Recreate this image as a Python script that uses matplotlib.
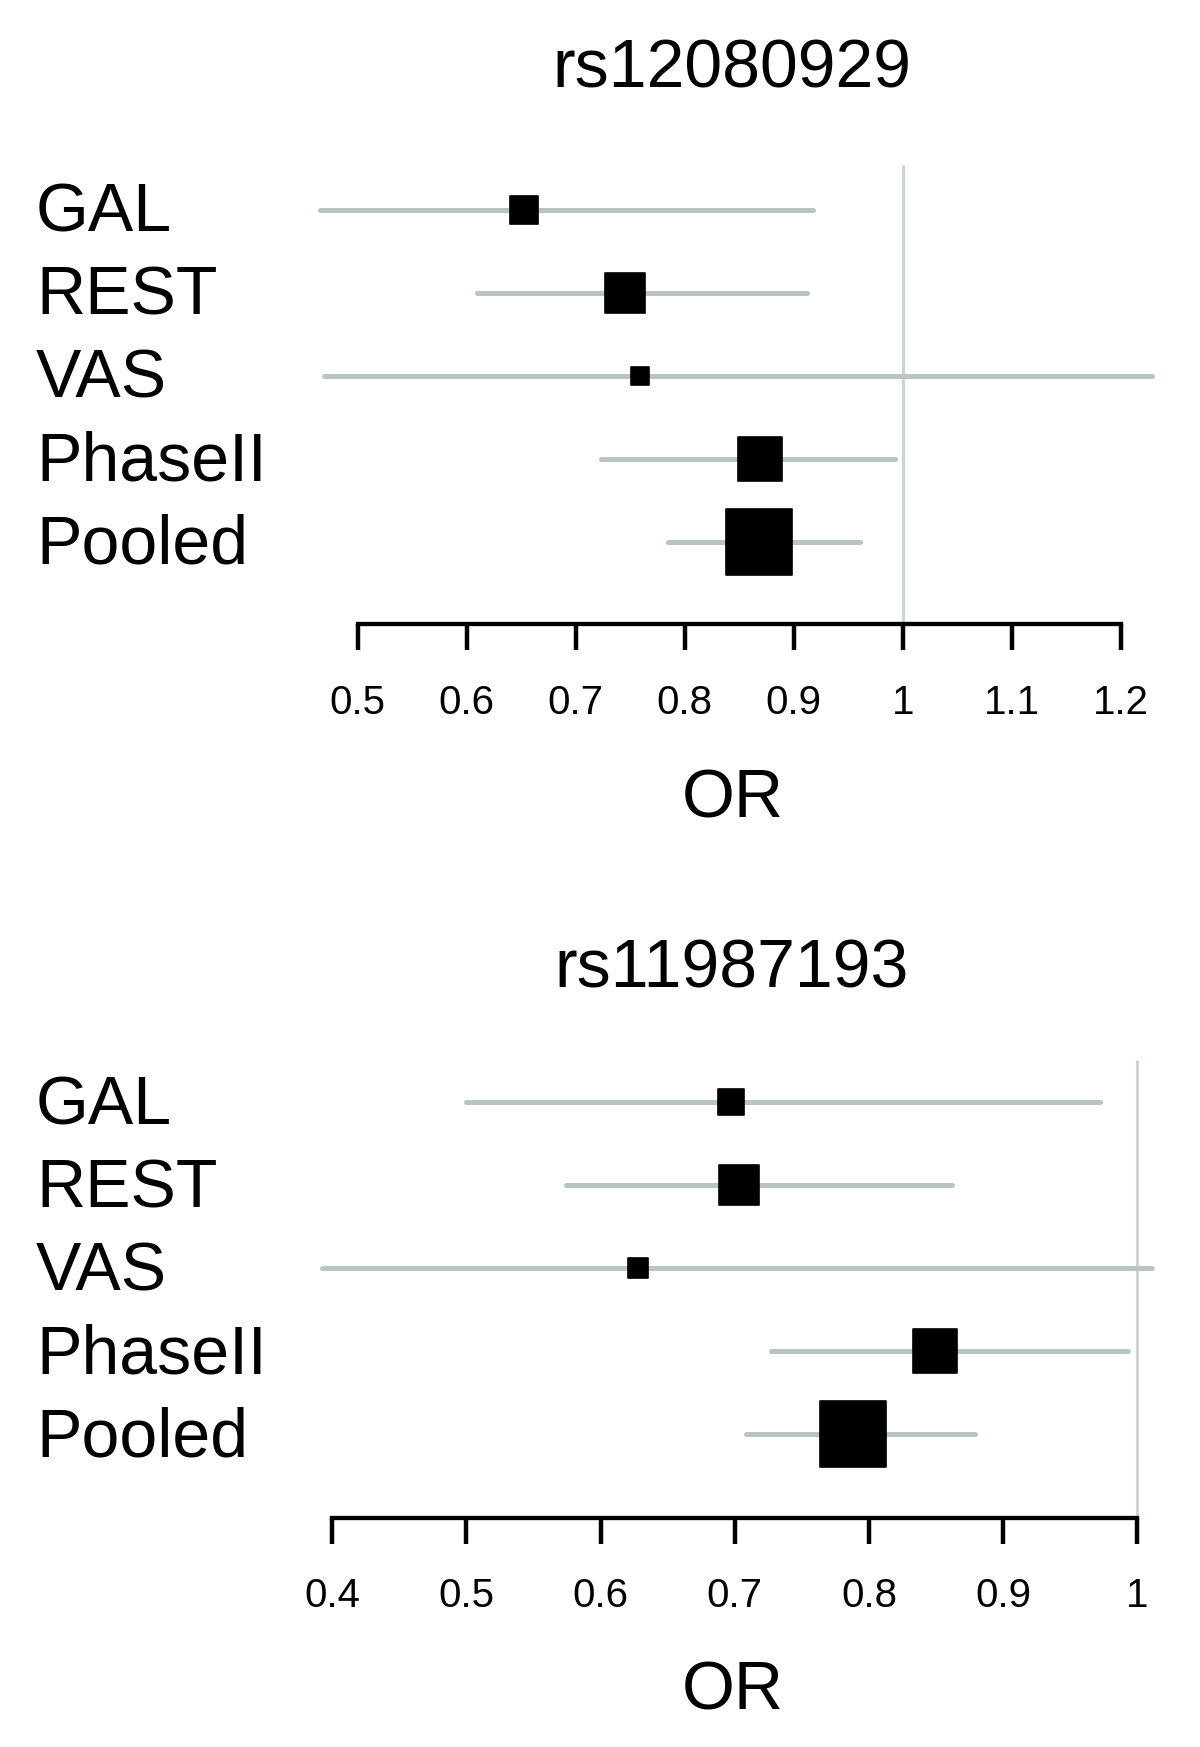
import matplotlib
matplotlib.use("Agg")
import matplotlib.pyplot as plt
from matplotlib.markers import MarkerStyle
from matplotlib.transforms import blended_transform_factory, ScaledTranslation

plt.rcParams['font.family'] = ['Liberation Sans', 'DejaVu Sans']

# ---------------- data ----------------
studies = ["GAL", "REST", "VAS", "PhaseII", "Pooled"]

title_top = "rs12080929"
or_top = [0.653, 0.745, 0.759, 0.869, 0.868]
lo_top = [0.465, 0.609, 0.469, 0.723, 0.785]
hi_top = [0.918, 0.912, 1.229, 0.993, 0.961]
weight_top = [30.5, 42.5, 20.0, 46.0, 67.5]
ticks_top = [0.5, 0.6, 0.7, 0.8, 0.9, 1.0, 1.1, 1.2]
ticklabels_top = ["0.5", "0.6", "0.7", "0.8", "0.9", "1", "1.1", "1.2"]

title_bot = "rs11987193"
or_bot = [0.697, 0.703, 0.628, 0.849, 0.788]
lo_bot = [0.500, 0.574, 0.392, 0.727, 0.708]
hi_bot = [0.972, 0.862, 1.011, 0.993, 0.879]
weight_bot = [27.7, 42.5, 22.5, 45.0, 67.6]
ticks_bot = [0.4, 0.5, 0.6, 0.7, 0.8, 0.9, 1.0]
ticklabels_bot = ["0.4", "0.5", "0.6", "0.7", "0.8", "0.9", "1"]

xlabel = "OR"
ref_value = 1.0

# ---------------- layout ----------------
W, H = 1200, 1747
fig = plt.figure(figsize=(W / 100, H / 100), dpi=100)

CI_COLOR = "#b9c4c4"
REF_COLOR = "#cdd6d6"


def panel(box, xanchor, row0_px, row_step, axis_px, ref_top_px,
          title, title_base_px, label_base_px,
          est, lo, hi, weight, ticks, ticklabels):
    left, top, right, bottom = box
    ax = fig.add_axes([left / W, 1 - bottom / H, (right - left) / W, (bottom - top) / H])
    (va_, pa), (vb, pb) = xanchor
    scale = (pb - pa) / (vb - va_)
    ax.set_xlim(va_ - (pa - left) / scale, va_ + (right - pa) / scale)
    ax.set_ylim((bottom - row0_px) / row_step, (top - row0_px) / row_step)
    axis_y = (axis_px - row0_px) / row_step
    ref_top = (ref_top_px - row0_px) / row_step

    # reference line
    ax.plot([ref_value, ref_value], [ref_top, axis_y], color=REF_COLOR, lw=2.3,
            solid_capstyle='butt', zorder=1, clip_on=False)

    ys = list(range(len(studies)))
    for y, e, l, h, w in zip(ys, est, lo, hi, weight):
        ax.plot([l, h], [y, y], color=CI_COLOR, lw=3.6, solid_capstyle='round',
                zorder=2, clip_on=False)
        ax.plot([e], [y], linestyle='none',
                marker=MarkerStyle('s', joinstyle='round'),
                markersize=w * 0.72 - 1.2, markerfacecolor='black',
                markeredgecolor='black', markeredgewidth=1.2, zorder=3, clip_on=False)

    for s in ['top', 'right', 'left']:
        ax.spines[s].set_visible(False)
    ax.spines['bottom'].set_position(('data', axis_y))
    ax.spines['bottom'].set_bounds(ticks[0], ticks[-1])
    ax.spines['bottom'].set_linewidth(3.1)
    ax.spines['bottom'].set_capstyle('projecting')
    ax.set_yticks([])
    ax.set_xticks(ticks)
    ax.set_xticklabels(ticklabels)
    ax.tick_params(axis='x', direction='out', length=19, width=3.2, pad=24,
                   labelsize=29, color='black')
    ax.patch.set_alpha(0)

    # row labels
    tr = blended_transform_factory(fig.transFigure, ax.transData)
    for y, name in zip(ys, studies):
        t = tr + ScaledTranslation(0, -label_base_px / 100, fig.dpi_scale_trans)
        ax.text(36 / W, y, name, transform=t, ha='left', va='baseline',
                fontsize=49, color='black', clip_on=False)

    fig.text(732 / W, 1 - title_base_px / H, title, ha='center', va='baseline',
             fontsize=49, color='black')
    return ax


ax1 = panel((300, 150, 1180, 670), ((0.5, 357.7), (1.2, 1120.7)), 210.0, 82.9, 624.0, 165,
            title_top, 88, 22, or_top, lo_top, hi_top, weight_top, ticks_top, ticklabels_top)
fig.text(733 / W, 1 - 817 / H, xlabel, ha='center', va='baseline', fontsize=49)

ax2 = panel((300, 1040, 1180, 1570), ((0.4, 332.3), (1.0, 1137.3)), 1102.3, 83.0, 1517.5, 1060,
            title_bot, 987, 22, or_bot, lo_bot, hi_bot, weight_bot, ticks_bot, ticklabels_bot)
fig.text(733 / W, 1 - 1709 / H, xlabel, ha='center', va='baseline', fontsize=49)

fig.savefig("out.png", dpi=100)
